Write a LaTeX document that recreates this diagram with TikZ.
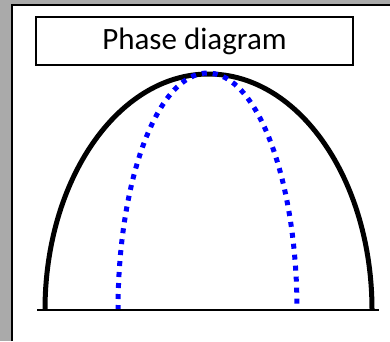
\documentclass[tikz,border=0pt]{standalone}
\usepackage{fontspec}
\setmainfont{Carlito}
\usepackage{xcolor}
\definecolor{panelgray}{RGB}{170,170,170}

\begin{document}
\begin{tikzpicture}[
    x=1pt, y=1pt,
    titlebox/.style={draw, line width=1.6pt, rectangle, minimum width=317pt, minimum height=48pt, fill=white, font=\fontsize{31}{34}\selectfont, inner sep=0pt},
    outercurve/.style={line width=5pt, black},
    innercurve/.style={line width=5pt, blue, dash pattern=on 5pt off 6pt}
]
  % Background
  \fill[panelgray] (0,0) rectangle (390,341);
  \useasboundingbox (0,0) rectangle (390,341);
  \fill[white] (12,0) rectangle (390,336);
  \draw[line width=2pt] (12,0) -- (12,336) -- (390,336);

  % Nodes
  \node (title) [titlebox] at (194.5,300) {Phase diagram};

  % Curves
  \draw [outercurve] (45,31) arc[start angle=180, end angle=0, x radius=163.5, y radius=236];
  \draw [innercurve] (118,31) arc[start angle=180, end angle=0, x radius=89.5, y radius=237];

  % Axis
  \draw [line width=1.5pt] (37,31) -- (379,31);
\end{tikzpicture}
\end{document}
